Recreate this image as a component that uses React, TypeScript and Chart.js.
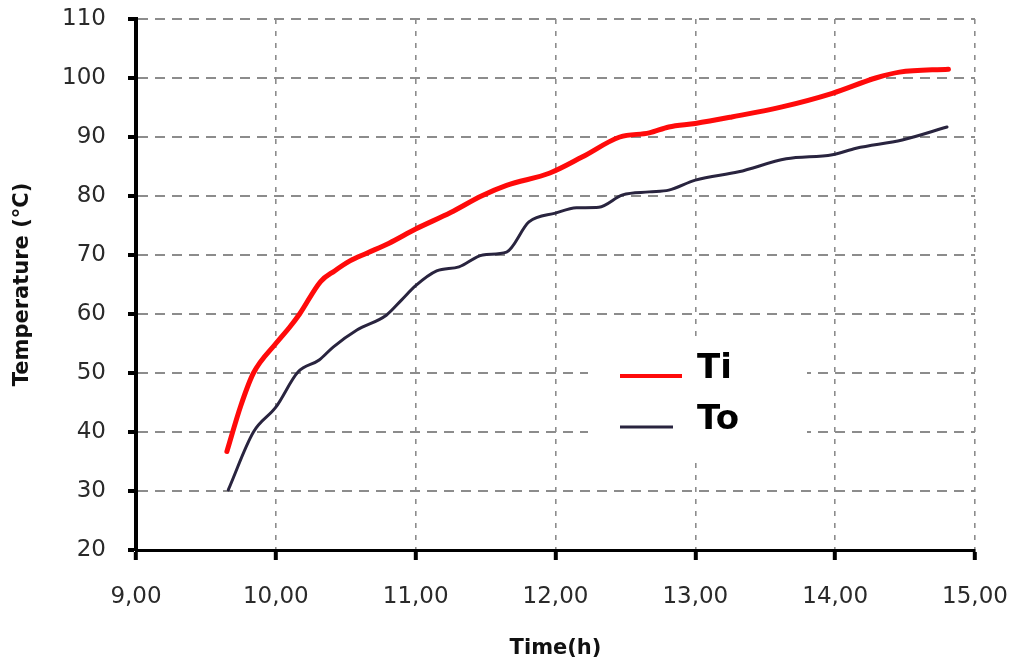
import React, { useEffect, useRef } from "react";
import { Chart, registerables } from "chart.js";

Chart.register(...registerables);

// Ti series (inner temperature)
const tiTime = [9.65, 9.75, 9.84, 10.0, 10.1, 10.17, 10.32, 10.42, 10.53, 10.65, 10.81, 11.0, 11.25, 11.47, 11.65, 11.96, 12.19, 12.46, 12.67, 12.81, 13.0, 13.26, 13.62, 13.98, 14.29, 14.46, 14.81];
const tiValues = [36.7, 44.5, 50, 55, 57.8, 60, 65.5, 67.3, 69, 70.3, 72, 74.4, 77.2, 80, 81.8, 83.9, 86.6, 90, 90.7, 91.7, 92.3, 93.4, 95.1, 97.4, 100, 101, 101.5];

// To series (outer temperature)
const toTime = [9.66, 9.84, 10.0, 10.16, 10.31, 10.41, 10.58, 10.79, 10.9, 11.0, 11.15, 11.31, 11.48, 11.65, 11.81, 12.0, 12.15, 12.31, 12.48, 12.67, 12.81, 13.0, 13.31, 13.65, 13.98, 14.15, 14.48, 14.8];
const toValues = [30.2, 40, 44.2, 50.2, 52.2, 54.4, 57.3, 59.8, 62.4, 64.8, 67.3, 68, 70, 70.5, 75.6, 77.1, 78, 78.1, 80.2, 80.7, 81, 82.7, 84.1, 86.3, 87, 88.1, 89.5, 91.7];

const seriesLabels = ["Ti", "To"];
const seriesColors = ["#ff0a0a", "#29243f"];
const seriesWidths = [5, 3];

const xTicks = [9, 10, 11, 12, 13, 14, 15];
const yTicks = [20, 30, 40, 50, 60, 70, 80, 90, 100, 110];

const xTitle = "Time(h)";
const yTitle = "Temperature (°C)";

const FONT = "'DejaVu Sans', Verdana, sans-serif";

const legendPlugin = {
  id: "insideLegend",
  beforeDatasetsDraw(chart: any) {
    const { ctx, chartArea } = chart;
    const bx = chartArea.left + 452;
    const by = chartArea.top + 321;
    ctx.save();
    ctx.fillStyle = "#ffffff";
    ctx.fillRect(bx, by, 219, 120);
    const rows = [
      { ly: by + 36, x2: bx + 94, ty: by + 38 },
      { ly: by + 87, x2: bx + 85, ty: by + 89 },
    ];
    chart.data.datasets.forEach((ds: any, i: number) => {
      const r = rows[i];
      ctx.beginPath();
      ctx.strokeStyle = ds.borderColor;
      ctx.lineWidth = i === 0 ? 4 : 3;
      ctx.moveTo(bx + 32, r.ly);
      ctx.lineTo(r.x2, r.ly);
      ctx.stroke();
      ctx.fillStyle = "#000000";
      ctx.font = "bold 34px " + FONT;
      ctx.textAlign = "left";
      ctx.textBaseline = "alphabetic";
      ctx.fillText(ds.label, bx + 109, r.ty);
    });
    ctx.restore();
  },
};

export default function App() {
  const canvasRef = useRef<HTMLCanvasElement | null>(null);

  useEffect(() => {
    if (!canvasRef.current) return;
    const makeData = (xs: number[], ys: number[]) => xs.map((x, i) => ({ x, y: ys[i] }));
    const chart = new Chart(canvasRef.current, {
      type: "line",
      data: {
        datasets: [
          {
            label: seriesLabels[0],
            data: makeData(tiTime, tiValues),
            borderColor: seriesColors[0],
            backgroundColor: seriesColors[0],
            borderWidth: seriesWidths[0],
            pointRadius: 0,
            cubicInterpolationMode: "monotone",
            borderCapStyle: "round",
            borderJoinStyle: "round",
          },
          {
            label: seriesLabels[1],
            data: makeData(toTime, toValues),
            borderColor: seriesColors[1],
            backgroundColor: seriesColors[1],
            borderWidth: seriesWidths[1],
            pointRadius: 0,
            cubicInterpolationMode: "monotone",
            borderCapStyle: "round",
            borderJoinStyle: "round",
          },
        ],
      },
      options: {
        responsive: false,
        animation: false,
        layout: { padding: { top: 19, right: 36, left: 0, bottom: 0 } },
        plugins: {
          legend: { display: false },
          tooltip: { enabled: false },
        },
        scales: {
          x: {
            type: "linear",
            min: xTicks[0],
            max: xTicks[xTicks.length - 1],
            afterBuildTicks: (scale: any) => {
              scale.ticks = xTicks.map((v) => ({ value: v }));
            },
            afterFit: (scale: any) => {
              scale.height = 114;
              scale.paddingLeft = 0;
              scale.paddingRight = 0;
            },
            ticks: {
              padding: 23,
              color: "#2a2a2a",
              font: { family: FONT, size: 23 },
              callback: (v: any) => Number(v).toFixed(2).replace(".", ","),
              maxRotation: 0,
            },
            grid: {
              color: "#8c8c8c",
              lineWidth: 1.6,
              tickColor: "#000000",
              tickWidth: 4,
              tickLength: 10,
              tickBorderDash: [],
            },
            border: { display: true, color: "#000000", width: 3, dash: [5, 7] },
            title: {
              display: true,
              text: xTitle,
              color: "#111111",
              font: { family: FONT, size: 21, weight: "bold" },
              padding: { top: 0, bottom: 3 },
            },
          },
          y: {
            type: "linear",
            min: yTicks[0],
            max: yTicks[yTicks.length - 1],
            afterBuildTicks: (scale: any) => {
              scale.ticks = yTicks.map((v) => ({ value: v }));
            },
            afterFit: (scale: any) => {
              scale.width = 136;
              scale.paddingTop = 0;
              scale.paddingBottom = 0;
            },
            ticks: {
              padding: 22,
              color: "#2a2a2a",
              font: { family: FONT, size: 23 },
            },
            grid: {
              color: "#8c8c8c",
              lineWidth: 2,
              tickColor: "#000000",
              tickWidth: 4,
              tickLength: 8,
              tickBorderDash: [],
            },
            border: { display: true, color: "#000000", width: 4, dash: [10, 7] },
            title: {
              display: true,
              text: yTitle,
              color: "#111111",
              font: { family: FONT, size: 21, weight: "bold" },
              padding: { top: 10, bottom: 0 },
            },
          },
        },
      },
      plugins: [legendPlugin],
    } as any);
    return () => chart.destroy();
  }, []);

  return (
    <div style={{ position: "absolute", left: 0, top: 0, width: 1011, height: 664, background: "#ffffff" }}>
      <canvas ref={canvasRef} width={1011} height={664} style={{ display: "block" }} />
    </div>
  );
}
